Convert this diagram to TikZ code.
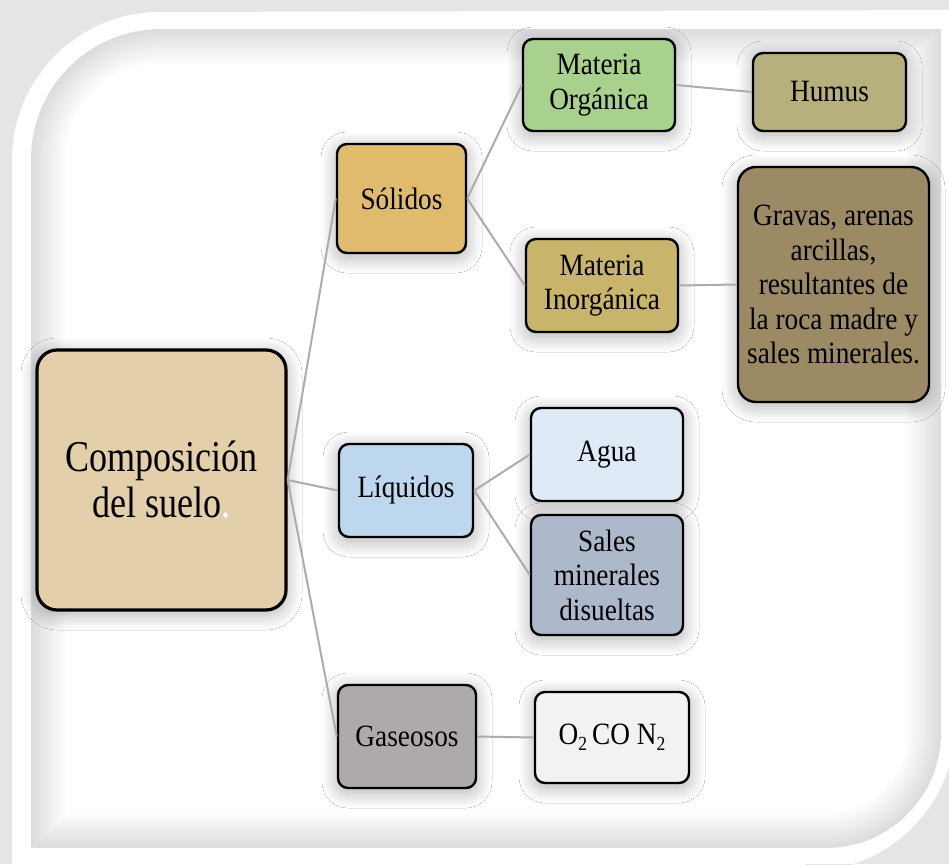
\documentclass[tikz,border=0pt]{standalone}
\usepackage{fontspec}
\setmainfont[FakeStretch=0.88]{Liberation Serif}
\newfontfamily\rootfont[FakeStretch=0.82]{Liberation Serif}
\usetikzlibrary{shadows.blur}
\definecolor{rootc}{HTML}{E3CFAA}
\definecolor{solc}{HTML}{E0BB6E}
\definecolor{moc}{HTML}{A9D18E}
\definecolor{humc}{HTML}{B6B07D}
\definecolor{mic}{HTML}{C8B46A}
\definecolor{gravc}{HTML}{9B8A64}
\definecolor{liqc}{HTML}{BDD7EE}
\definecolor{aguac}{HTML}{DEEBF7}
\definecolor{salc}{HTML}{ADB9CA}
\definecolor{gasc}{HTML}{AEAAAA}
\definecolor{oxc}{HTML}{F2F2F2}
\definecolor{linkc}{HTML}{ADABAB}
\newcommand{\lowtwo}{{\fontsize{20}{20}\selectfont\raisebox{-6pt}{2}}}
\tikzset{
  box/.style={draw=black, line width=2.4pt, rounded corners=10pt, align=center,
    inner sep=0pt, text=black, font=\fontsize{31}{34.5}\selectfont,
    blur shadow={shadow xshift=0pt, shadow yshift=-4pt, shadow blur radius=16pt,
      shadow blur steps=30, shadow opacity=32}},
  link/.style={draw=linkc, line width=2pt}
}
\begin{document}
\begin{tikzpicture}[x=1pt,y=-1pt]
\useasboundingbox (0,0) rectangle (949,864);
% background and frame
\fill[black!10] (0,0) rectangle (949,864);
\fill[white] (12,880) -- (12,160) arc[start angle=180,end angle=90,radius=148pt]
  -- (970,10) -- (970,864) -- (956,864) -- (956,722) arc[start angle=0,end angle=-90,radius=150pt]
  -- (806,880) -- cycle;
\fill[white] (806,864) rectangle (970,880);
\fill[black!10] (956,722) arc[start angle=0,end angle=-90,radius=150pt] -- (806,864) -- (949,864) -- cycle;
\begin{scope}
  \clip (31,848) -- (31,159) arc[start angle=180,end angle=90,radius=130pt]
    -- (941,29) -- (941,733) arc[start angle=0,end angle=-90,radius=115pt] -- cycle;
  \fill[white] (0,0) rectangle (949,864);
  \foreach \w in {70,66,...,4}{
    \draw[black, line width=\w pt, opacity=0.009] (31,848) -- (31,159) arc[start angle=180,end angle=90,radius=130pt]
      -- (941,29) -- (941,733) arc[start angle=0,end angle=-90,radius=115pt] -- cycle;
  }
\end{scope}
% nodes
\node[box, fill=rootc, minimum width=249pt, minimum height=260pt, rounded corners=20pt, line width=3.2pt,
  font=\rootfont\fontsize{44}{46}\selectfont] (root) at (161.5,480) {Composición\\del suelo\textcolor{white}{.}};
\node[box, fill=solc, minimum width=129pt, minimum height=109pt] (sol) at (401.5,198.5) {Sólidos};
\node[box, fill=moc, minimum width=152pt, minimum height=92pt] (mo) at (599,85) {Materia\\Orgánica};
\node[box, fill=humc, minimum width=153pt, minimum height=78pt] (hum) at (829.5,92) {Humus};
\node[box, fill=mic, minimum width=152pt, minimum height=93pt] (mi) at (602,285.5) {Materia\\Inorgánica};
\node[box, fill=gravc, minimum width=191pt, minimum height=235pt, rounded corners=18pt] (grav) at (833.5,284.5)
  {Gravas, arenas\\arcillas,\\resultantes de\\la roca madre y\\sales minerales.};
\node[box, fill=liqc, minimum width=134pt, minimum height=93pt] (liq) at (406,490.5) {Líquidos};
\node[box, fill=aguac, minimum width=152pt, minimum height=93pt] (agua) at (607,454.5) {Agua};
\node[box, fill=salc, minimum width=152pt, minimum height=120pt] (sal) at (607,575) {Sales\\minerales\\disueltas};
\node[box, fill=gasc, minimum width=138pt, minimum height=103pt] (gas) at (407,736.5) {Gaseosos};
\node[box, fill=oxc, minimum width=154pt, minimum height=91pt] (ox) at (612,737.5) {O\lowtwo\,CO N\lowtwo};
% connectors
\draw[link] (root.east) -- (sol.west);
\draw[link] (root.east) -- (liq.west);
\draw[link] (root.east) -- (gas.west);
\draw[link] (sol.east) -- (mo.west);
\draw[link] (sol.east) -- (mi.west);
\draw[link] (mo.east) -- (hum.west);
\draw[link] (mi.east) -- (grav.west);
\draw[link] (liq.east) -- (agua.west);
\draw[link] (liq.east) -- (sal.west);
\draw[link] (gas.east) -- (ox.west);
\end{tikzpicture}
\end{document}
